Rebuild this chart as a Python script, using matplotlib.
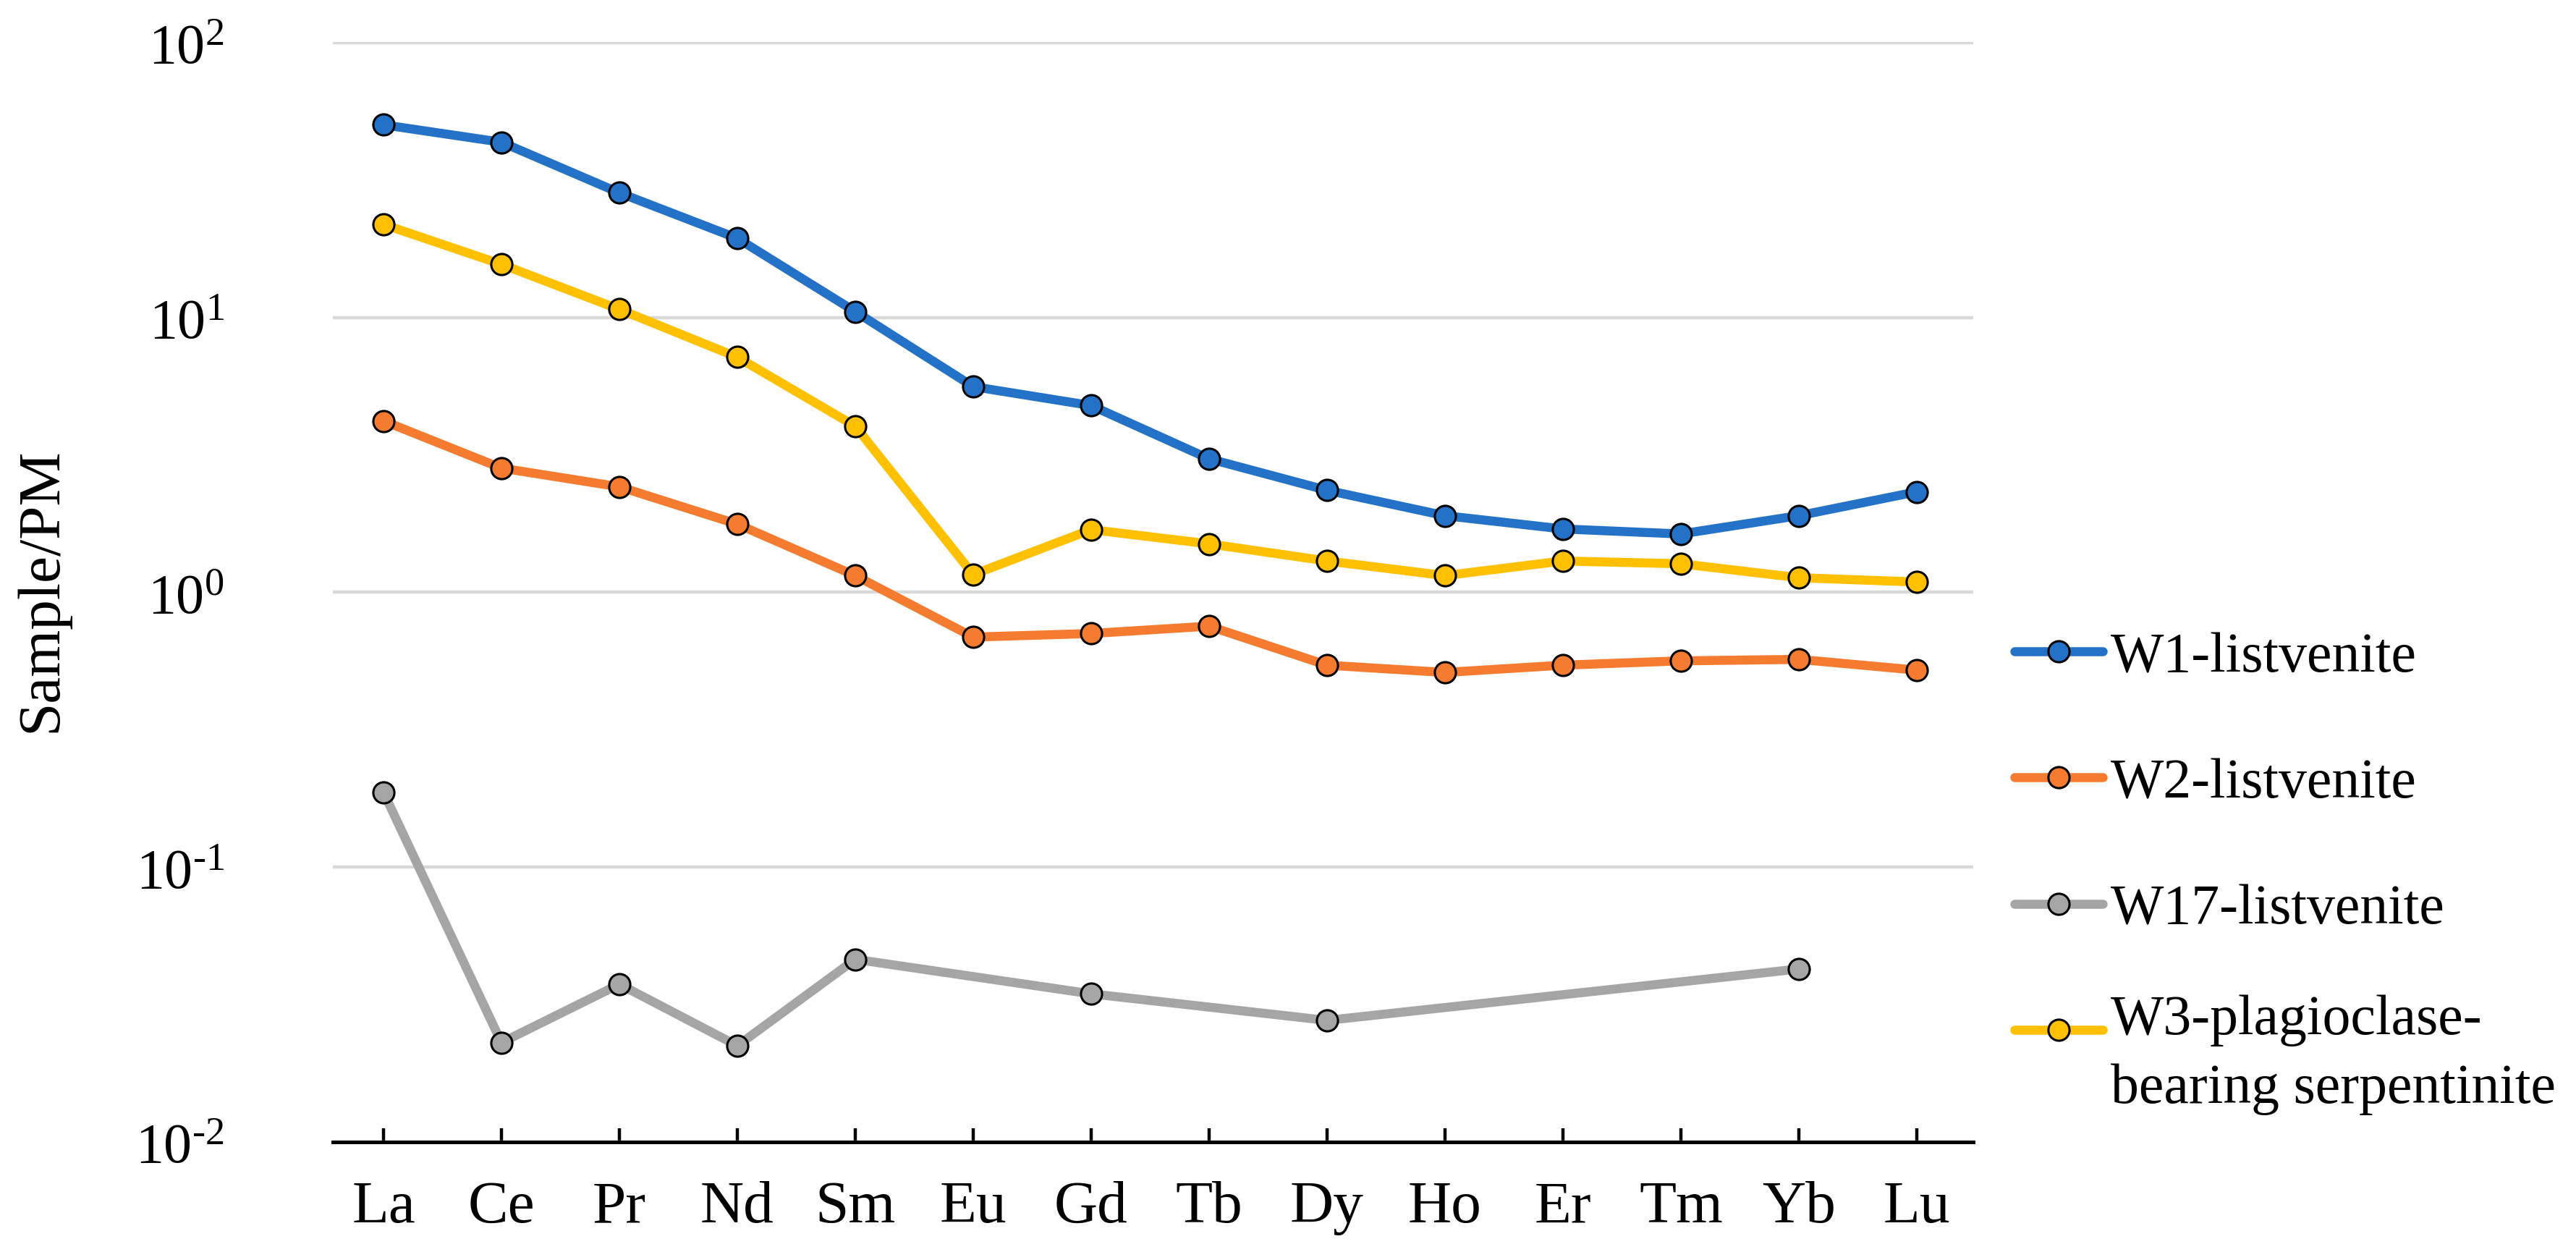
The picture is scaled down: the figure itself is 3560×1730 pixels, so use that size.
import numpy as np
import matplotlib
matplotlib.use("Agg")
import matplotlib.pyplot as plt
from matplotlib.ticker import FixedLocator, FixedFormatter, NullLocator

# ---- data ----
elements = ["La", "Ce", "Pr", "Nd", "Sm", "Eu", "Gd", "Tb", "Dy", "Ho", "Er", "Tm", "Yb", "Lu"]
w1_listvenite = [50.2, 43.4, 28.4, 19.4, 10.5, 5.6, 4.78, 3.06, 2.35, 1.90, 1.70, 1.63, 1.90, 2.32]
w2_listvenite = [4.20, 2.83, 2.42, 1.77, 1.15, 0.687, 0.708, 0.753, 0.543, 0.511, 0.543, 0.563, 0.570, 0.521]
w17_listvenite = [0.187, 0.0230, 0.0375, 0.0224, 0.0462, np.nan, 0.0346, np.nan, 0.0277, np.nan, np.nan, np.nan, 0.0426, np.nan]
w3_serpentinite = [21.8, 15.6, 10.7, 7.17, 4.02, 1.16, 1.69, 1.50, 1.30, 1.15, 1.30, 1.27, 1.13, 1.09]

series_labels = ["W1-listvenite", "W2-listvenite", "W17-listvenite", "W3-plagioclase-"]
w3_label_line2 = "bearing serpentinite"
series_colors = ["#2472C8", "#F47B2F", "#A5A5A5", "#FFC000"]
ytick_values = [0.01, 0.1, 1, 10, 100]
ytick_labels = [r"$\mathdefault{10^{\text{-}2}}$", r"$\mathdefault{10^{\text{-}1}}$",
                r"$\mathdefault{10^{0}}$", r"$\mathdefault{10^{1}}$", r"$\mathdefault{10^{2}}$"]

plt.rcParams["font.family"] = ["Liberation Serif", "DejaVu Serif"]
plt.rcParams["mathtext.fontset"] = "custom"
plt.rcParams["mathtext.rm"] = "Liberation Serif"

W, H, DPI = 3560, 1731, 200
fig = plt.figure(figsize=(W / DPI, H / DPI), dpi=DPI)
ax = fig.add_axes([460 / W, 1 - 1579 / H, (2727 - 460) / W, (1579 - 59) / H])

x = np.arange(len(elements))
all_series = [w1_listvenite, w2_listvenite, w17_listvenite, w3_serpentinite]
handles = []
for vals, lab, col in zip(all_series, series_labels, series_colors):
    v = np.array(vals, dtype=float)
    m = ~np.isnan(v)
    h, = ax.plot(x[m], v[m], color=col, lw=4.5, marker="o", ms=10.5,
                 mfc=col, mec="black", mew=1.1, label=lab, zorder=3,
                 solid_capstyle="round", solid_joinstyle="round")
    handles.append(h)

ax.set_yscale("log")
ax.set_ylim(0.01, 100.5)
ax.set_xlim(-0.43, 13.48)

ax.yaxis.set_major_locator(FixedLocator(ytick_values))
ax.yaxis.set_major_formatter(FixedFormatter(ytick_labels))
ax.yaxis.set_minor_locator(NullLocator())
ax.tick_params(axis="y", length=0, pad=54, labelsize=28)
ax.yaxis.grid(True, color="#D9D9D9", lw=1.6, zorder=0)
ax.set_axisbelow(True)

ax.set_xticks(x)
ax.set_xticklabels(elements)
ax.tick_params(axis="x", direction="in", length=7, width=1.6, pad=19, labelsize=30)

for s in ["top", "right", "left"]:
    ax.spines[s].set_visible(False)
ax.spines["bottom"].set_linewidth(1.8)
ax.spines["bottom"].set_zorder(4)

fig.text(58 / W, 1 - 815 / H, "Sample/PM", rotation=90, ha="center", va="center", fontsize=30)

leg = ax.legend(handles=handles, loc="upper left", bbox_to_anchor=(2784 / W, 1 - 874 / H),
                bbox_transform=fig.transFigure, frameon=False, fontsize=28,
                handlelength=1.57, handletextpad=0.14, labelspacing=1.32,
                borderpad=0, borderaxespad=0)

# the W3 label sits a little higher than its marker (offset in display pixels);
# its second line goes below it
leg.get_texts()[3].set_y(22)
fig.canvas.draw()
bb = leg.get_texts()[3].get_window_extent(renderer=fig.canvas.get_renderer())
fig.text(bb.x0 / W, (bb.y0 - 95) / H, w3_label_line2, ha="left", va="bottom", fontsize=28)

fig.savefig("out.png", dpi=DPI)
